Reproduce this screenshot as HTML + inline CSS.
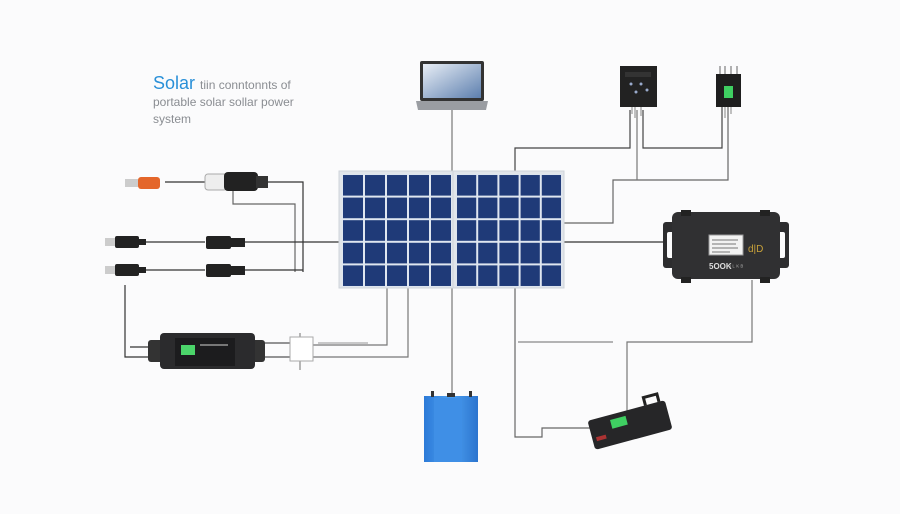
<!DOCTYPE html>
<html><head><meta charset="utf-8"><style>
html,body{margin:0;padding:0;background:#fbfbfc;}
svg{display:block;}
</style></head><body>
<svg width="900" height="514" viewBox="0 0 900 514" xmlns="http://www.w3.org/2000/svg" font-family="Liberation Sans, sans-serif">
<defs>
<pattern id="cells" x="342" y="174" width="22" height="22.6" patternUnits="userSpaceOnUse">
<rect x="0" y="0" width="22" height="22.6" fill="#dfe6f0"/>
<rect x="1" y="1" width="20" height="20.6" fill="#1f3a78"/>
</pattern>
<pattern id="cells2" x="456" y="174" width="21.2" height="22.6" patternUnits="userSpaceOnUse">
<rect x="0" y="0" width="21.2" height="22.6" fill="#dfe6f0"/>
<rect x="1" y="1" width="19.2" height="20.6" fill="#1f3a78"/>
</pattern>
<linearGradient id="scr" x1="0" y1="0" x2="1" y2="1"><stop offset="0" stop-color="#e8eef6"/><stop offset="1" stop-color="#5d7fae"/></linearGradient>
<linearGradient id="bat" x1="0" y1="0" x2="1" y2="0"><stop offset="0" stop-color="#2c7ad8"/><stop offset="0.5" stop-color="#4da0f0"/><stop offset="1" stop-color="#2b74cf"/></linearGradient>
</defs>
<text x="153" y="89" font-size="18" fill="#2a90d8">Solar <tspan font-size="12" fill="#8a8d92">tiin conntonnts of</tspan></text>
<text x="153" y="106" font-size="12" fill="#8a8d92">portable solar sollar power</text>
<text x="153" y="123" font-size="12" fill="#8a8d92">system</text>

<g fill="none" stroke-width="1.2">
<path d="M165 182H205" stroke="#333"/>
<path d="M268 182H303V272" stroke="#333"/>
<path d="M233 190V204H295V272" stroke="#666"/>
<path d="M146 242H205M245 242H340" stroke="#333"/>
<path d="M146 270H205M245 270H303" stroke="#333"/>
<path d="M125 285V357H148" stroke="#333"/>
<path d="M130 347H148" stroke="#333"/>
<path d="M387 287V345H313M408 287V357H313" stroke="#777"/>
<path d="M265 343H290M265 357H290" stroke="#555"/>
<path d="M300 333V370" stroke="#888"/>
<path d="M318 343H368" stroke="#aaa"/>
<path d="M452 110V172" stroke="#777"/>
<path d="M515 172V148H630V110" stroke="#444"/>
<path d="M643 110V148H722V107" stroke="#444"/>
<path d="M563 223H613V180H728V107" stroke="#666"/>
<path d="M637 110V180" stroke="#777"/>
<path d="M632 106V114M635 106V118M641 106V116" stroke="#999"/>
<path d="M725 107V118M731 107V114" stroke="#999"/>
<path d="M563 242H665" stroke="#333"/>
<path d="M452 287V395" stroke="#777"/>
<path d="M515 287V437H542V428H590" stroke="#666"/>
<path d="M518 342H613" stroke="#888"/>
<path d="M752 280V342H627V412" stroke="#777"/>
</g>

<rect x="125" y="179" width="13" height="8" fill="#ccc"/>
<rect x="138" y="177" width="22" height="12" rx="3" fill="#e4662a"/>
<rect x="205" y="174" width="22" height="16" rx="3" fill="#eee" stroke="#aaa"/>
<rect x="224" y="172" width="34" height="19" rx="4" fill="#222"/>
<rect x="256" y="176" width="12" height="12" fill="#333"/>
<g fill="#222">
<rect x="105" y="238" width="12" height="8" fill="#ccc"/><rect x="115" y="236" width="24" height="12" rx="2"/><rect x="138" y="239" width="8" height="6"/>
<rect x="105" y="266" width="12" height="8" fill="#ccc"/><rect x="115" y="264" width="24" height="12" rx="2"/><rect x="138" y="267" width="8" height="6"/>
<rect x="206" y="236" width="25" height="13" rx="2"/><rect x="230" y="238" width="15" height="9"/>
<rect x="206" y="264" width="25" height="13" rx="2"/><rect x="230" y="266" width="15" height="9"/>
</g>
<rect x="148" y="340" width="117" height="22" rx="3" fill="#333"/>
<rect x="160" y="333" width="95" height="36" rx="4" fill="#2b2b2d"/>
<rect x="175" y="338" width="60" height="28" fill="#1c1c1e"/>
<rect x="181" y="345" width="14" height="10" fill="#4bd46a"/>
<rect x="200" y="344" width="28" height="2" fill="#777"/>
<rect x="290" y="337" width="23" height="24" fill="#fff" stroke="#aaa"/>

<rect x="339" y="171" width="115" height="117" fill="#e1e5ea" stroke="#cfd4da"/>
<rect x="342" y="174" width="110" height="113" fill="url(#cells)"/>
<rect x="453" y="171" width="111" height="117" fill="#e1e5ea" stroke="#cfd4da"/>
<rect x="456" y="174" width="106" height="113" fill="url(#cells2)"/>

<rect x="420" y="61" width="64" height="40" rx="2" fill="#333"/>
<rect x="423" y="64" width="58" height="34" fill="url(#scr)"/>
<path d="M416 101H488L486 110H418Z" fill="#9a9da2"/>
<rect x="620" y="66" width="37" height="41" fill="#222"/>
<rect x="625" y="72" width="26" height="5" fill="#333"/>
<circle cx="631" cy="84" r="1.5" fill="#9ac"/><circle cx="641" cy="84" r="1.5" fill="#9ac"/><circle cx="647" cy="90" r="1.5" fill="#9ac"/><circle cx="636" cy="92" r="1.5" fill="#9ac"/>
<rect x="716" y="74" width="25" height="33" fill="#1e1e1e"/>
<rect x="724" y="86" width="9" height="12" fill="#3fcf62"/>
<path d="M720 66V74M725 66V74M731 66V74M737 66V74" stroke="#666" stroke-width="1"/>
<rect x="663" y="222" width="126" height="46" rx="3" fill="#2d2d2f"/>
<rect x="667" y="232" width="8" height="26" rx="2" fill="#fbfbfc"/>
<rect x="777" y="232" width="8" height="26" rx="2" fill="#fbfbfc"/>
<rect x="672" y="212" width="108" height="67" rx="6" fill="#303032"/>
<rect x="681" y="210" width="10" height="6" fill="#222"/><rect x="760" y="210" width="10" height="6" fill="#222"/>
<rect x="681" y="277" width="10" height="6" fill="#222"/><rect x="760" y="277" width="10" height="6" fill="#222"/>
<rect x="709" y="235" width="34" height="20" fill="#f2f2f2" stroke="#999"/>
<path d="M712 240H738M712 244H736M712 248H738M712 252H730" stroke="#777" stroke-width="1"/>
<text x="709" y="269" font-size="8" fill="#ddd" font-weight="bold">5OOK</text>
<text x="730" y="269" font-size="6" fill="#aaa">ᴵ ᴸ ᴷ ᴮ</text>
<text x="748" y="252" font-size="10" fill="#c9a23a">d|D</text>
<rect x="424" y="396" width="54" height="66" fill="url(#bat)"/>
<rect x="434" y="398" width="28" height="64" fill="#3f8fe6"/>
<rect x="431" y="391" width="3" height="6" fill="#333"/><rect x="469" y="391" width="3" height="6" fill="#333"/><rect x="447" y="393" width="8" height="4" fill="#333"/>
<g transform="rotate(-15 630 425)">
<rect x="590" y="410" width="80" height="30" rx="3" fill="#262628"/>
<rect x="612" y="415" width="16" height="9" fill="#3fcf62"/>
<path d="M650 410V402H664V410" stroke="#222" stroke-width="3" fill="none"/>
<rect x="594" y="428" width="10" height="4" fill="#a33"/>
</g>
</svg>
</body></html>
